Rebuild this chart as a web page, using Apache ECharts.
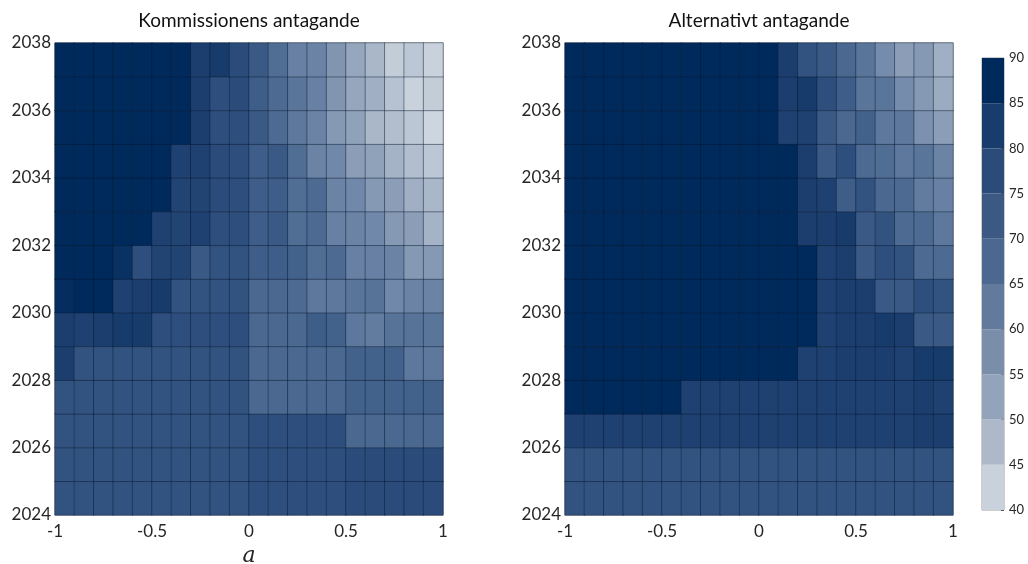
<!DOCTYPE html>
<html><head><meta charset="utf-8">
<script src="https://cdn.jsdelivr.net/npm/echarts@6/dist/echarts.min.js"></script>
<style>html,body{margin:0;padding:0;background:#fff}#c{width:1028px;height:564px}</style>
</head><body><div id="c"></div>
<script>
// ---------- data ----------
const aCenters = [-0.95,-0.85,-0.75,-0.65,-0.55,-0.45,-0.35,-0.25,-0.15,-0.05,0.05,0.15,0.25,0.35,0.45,0.55,0.65,0.75,0.85,0.95];
const years = [2024,2025,2026,2027,2028,2029,2030,2031,2032,2033,2034,2035,2036,2037];
const xTicks = [-1,-0.5,0,0.5,1];
const yTicks = [2024,2026,2028,2030,2032,2034,2036,2038];
const cbTicks = [40,45,50,55,60,65,70,75,80,85,90];
const titles = ['Kommissionens antagande','Alternativt antagande'];
const xName = 'a';

// rows listed from 2024 (bottom) to 2037 (top); 20 values per row from a=-1 to a=1
const kommValues = [
  [75,75,75,75,75,75,75,75,75,75,76,76,76,76,76,77,77,77,77,77], // 2024
  [75,75,75,75,75,75,75,75,75,75,76,76,76,76,76,77,77,77,77,77], // 2025
  [75,75,75,75,75,75,75,75,75,75,76,76,76,76,76,69,69,69,69,69], // 2026
  [75,75,75,75,75,75,75,75,75,75,69,69,69,69,69,71,71,71,71,71], // 2027
  [82,75,75,75,75,75,75,75,75,75,69,69,69,69,69,71,71,71,63,63], // 2028
  [82,81,82,83,83,76,76,76,76,76,69,69,69,72,71,63,62,65,65,64], // 2029
  [87,88,88,81,82,83,75,75,75,75,69,69,68,63,63,64,65,59,60,60], // 2030
  [88,88,88,86,76,80,80,73,75,75,72,72,71,67,68,61,61,60,55,55], // 2031
  [88,88,88,88,88,81,80,81,76,76,72,73,67,68,61,60,59,55,54,49], // 2032
  [88,88,88,88,88,88,80,80,77,76,72,72,67,68,60,59,55,54,50,48], // 2033
  [88,88,88,88,88,88,81,81,77,76,72,73,67,60,59,54,53,49,46,44], // 2034
  [88,88,88,88,88,88,88,82,76,76,73,68,63,60,55,53,48,46,44,41], // 2035
  [88,88,88,88,88,88,88,82,76,77,72,68,64,61,56,52,50,45,42,43], // 2036
  [88,88,88,88,88,88,88,82,83,77,73,67,61,60,56,52,48,43,44,42]  // 2037
];
const altValues = [
  [75,75,75,75,75,75,75,75,75,75,75,75,75,75,75,75,75,75,75,75], // 2024
  [75,75,75,75,75,75,75,75,75,75,75,75,75,75,75,75,75,75,75,75], // 2025
  [81,81,81,81,81,81,81,81,81,81,81,81,81,81,81,81,81,81,82,82], // 2026
  [88,88,88,88,88,88,81,81,81,81,81,81,81,81,81,81,81,81,82,81], // 2027
  [88,88,88,88,88,88,88,88,88,88,88,88,81,81,82,82,82,81,83,83], // 2028
  [88,88,88,88,88,88,88,88,88,88,88,88,88,81,82,82,83,82,73,73], // 2029
  [88,88,88,88,88,88,88,88,88,88,88,88,88,81,82,82,73,73,76,75], // 2030
  [88,88,88,88,88,88,88,88,88,88,88,88,88,81,82,73,76,75,68,68], // 2031
  [88,88,88,88,88,88,88,88,88,88,88,88,82,82,83,73,75,68,68,63], // 2032
  [88,88,88,88,88,88,88,88,88,88,88,88,82,81,72,75,69,68,62,61], // 2033
  [88,88,88,88,88,88,88,88,88,88,88,88,82,73,76,68,67,63,64,60], // 2034
  [88,88,88,88,88,88,88,88,88,88,88,81,81,73,69,71,63,63,57,54], // 2035
  [88,88,88,88,88,88,88,88,88,88,88,82,83,76,72,64,64,58,55,51], // 2036
  [88,88,88,88,88,88,88,88,88,88,88,82,75,73,69,64,58,54,55,50]  // 2037
];

// ---------- styles ----------
const colorAnchors = [[40,'#d0d8e2'],[42,'#c9d2dc'],[45,'#b6c2d1'],[50,'#a0afc3'],[55,'#8699b4'],[59,'#7088a9'],[63,'#5d789c'],[69,'#4a6890'],[72,'#3e5d88'],[76,'#2e4f7d'],[82,'#1c3e6e'],[88,'#002a5c'],[90,'#00285a']];
const cbColors = ['#c9d2dc','#adb9c9','#93a3b9','#7a8ea9','#627a9b','#4d6890','#3b5983','#2b4b78','#183d6c','#002a5c'];
const FONT = 'Lato';

function hex(c){return [1,3,5].map(i=>parseInt(c.substr(i,2),16));}
function colorAt(v){
  for(let i=0;i<colorAnchors.length-1;i++){
    const [v0,c0]=colorAnchors[i],[v1,c1]=colorAnchors[i+1];
    if(v>=v0&&v<=v1){
      const t=(v-v0)/(v1-v0),a=hex(c0),b=hex(c1);
      return 'rgb('+a.map((x,k)=>Math.round(x+(b[k]-x)*t)).join(',')+')';
    }
  }
  return colorAnchors[colorAnchors.length-1][1];
}
const vmColors=[];
for(let v=40;v<=90;v++) vmColors.push(colorAt(v));

function toHeat(rows){
  const out=[];
  rows.forEach((row,yi)=>row.forEach((v,xi)=>out.push([xi,yi,v])));
  return out;
}

const grids=[
  {left:55, top:43, width:388, height:472, show:true, borderColor:'#9a9a9a', borderWidth:1, containLabel:false, outerBoundsMode:'none'},
  {left:565, top:43, width:388, height:472, show:true, borderColor:'#9a9a9a', borderWidth:1, containLabel:false, outerBoundsMode:'none'},
  {left:982, top:58, width:22, height:452, show:true, borderColor:'#9a9a9a', borderWidth:1, containLabel:false, outerBoundsMode:'none'}
];
const plain = v => String(v);
const labelStyle={color:'#262626', fontSize:17, fontFamily:FONT, formatter:plain};

const xAxes=[
  {type:'category', gridIndex:0, data:aCenters, show:false},
  {type:'category', gridIndex:1, data:aCenters, show:false},
  {type:'value', gridIndex:0, position:'bottom', min:xTicks[0], max:xTicks[xTicks.length-1], interval:0.5,
   axisLine:{show:false}, axisTick:{show:false}, splitLine:{show:false},
   axisLabel:Object.assign({margin:8}, labelStyle),
   name:xName, nameLocation:'middle', nameGap:27,
   nameTextStyle:{fontFamily:'DejaVu Serif', fontStyle:'italic', fontSize:22, color:'#222'}},
  {type:'value', gridIndex:1, position:'bottom', min:xTicks[0], max:xTicks[xTicks.length-1], interval:0.5,
   axisLine:{show:false}, axisTick:{show:false}, splitLine:{show:false},
   axisLabel:Object.assign({margin:8}, labelStyle)},
  {type:'category', gridIndex:2, data:['cb'], show:false}
];
const yAxes=[
  {type:'category', gridIndex:0, data:years, show:false},
  {type:'category', gridIndex:1, data:years, show:false},
  {type:'value', gridIndex:0, position:'left', min:yTicks[0], max:yTicks[yTicks.length-1], interval:2,
   axisLine:{show:false}, axisTick:{show:false}, splitLine:{show:false},
   axisLabel:Object.assign({margin:4}, labelStyle)},
  {type:'value', gridIndex:1, position:'left', min:yTicks[0], max:yTicks[yTicks.length-1], interval:2,
   axisLine:{show:false}, axisTick:{show:false}, splitLine:{show:false},
   axisLabel:Object.assign({margin:4}, labelStyle)},
  {type:'value', gridIndex:2, position:'right', min:cbTicks[0], max:cbTicks[cbTicks.length-1], interval:5,
   axisLine:{show:false}, axisTick:{show:true, length:3, inside:true, lineStyle:{color:'#555'}}, splitLine:{show:false},
   axisLabel:{color:'#262626', fontSize:13, fontFamily:FONT, margin:5}}
];

const cellStyle={borderColor:'rgba(8,22,45,0.55)', borderWidth:0.8};
const series=[
  {type:'heatmap', xAxisIndex:0, yAxisIndex:0, data:toHeat(kommValues), itemStyle:cellStyle, emphasis:{disabled:true}},
  {type:'heatmap', xAxisIndex:1, yAxisIndex:1, data:toHeat(altValues), itemStyle:cellStyle, emphasis:{disabled:true}},
  // invisible base so the colour bar starts at the first tick
  {type:'bar', stack:'cb', xAxisIndex:4, yAxisIndex:4, barWidth:'100%', data:[cbTicks[0]],
   itemStyle:{color:'rgba(0,0,0,0)'}, silent:true}
];
for(let i=0;i<cbTicks.length-1;i++){
  series.push({type:'bar', stack:'cb', xAxisIndex:4, yAxisIndex:4, barWidth:'100%',
    data:[cbTicks[i+1]-cbTicks[i]], itemStyle:{color:cbColors[i]}, silent:true});
}

const chart=echarts.init(document.getElementById('c'));
chart.setOption({
  animation:false,
  backgroundColor:'#fff',
  grid:grids,
  xAxis:xAxes,
  yAxis:yAxes,
  visualMap:{type:'continuous', show:false, seriesIndex:[0,1], min:40, max:90, inRange:{color:vmColors}},
  graphic:[
    {type:'text', x:249, y:21, style:{text:titles[0], textAlign:'center', textVerticalAlign:'middle', fontSize:19, fontFamily:FONT, fill:'#111'}},
    {type:'text', x:759, y:21, style:{text:titles[1], textAlign:'center', textVerticalAlign:'middle', fontSize:19, fontFamily:FONT, fill:'#111'}}
  ],
  series:series
});
</script></body></html>
